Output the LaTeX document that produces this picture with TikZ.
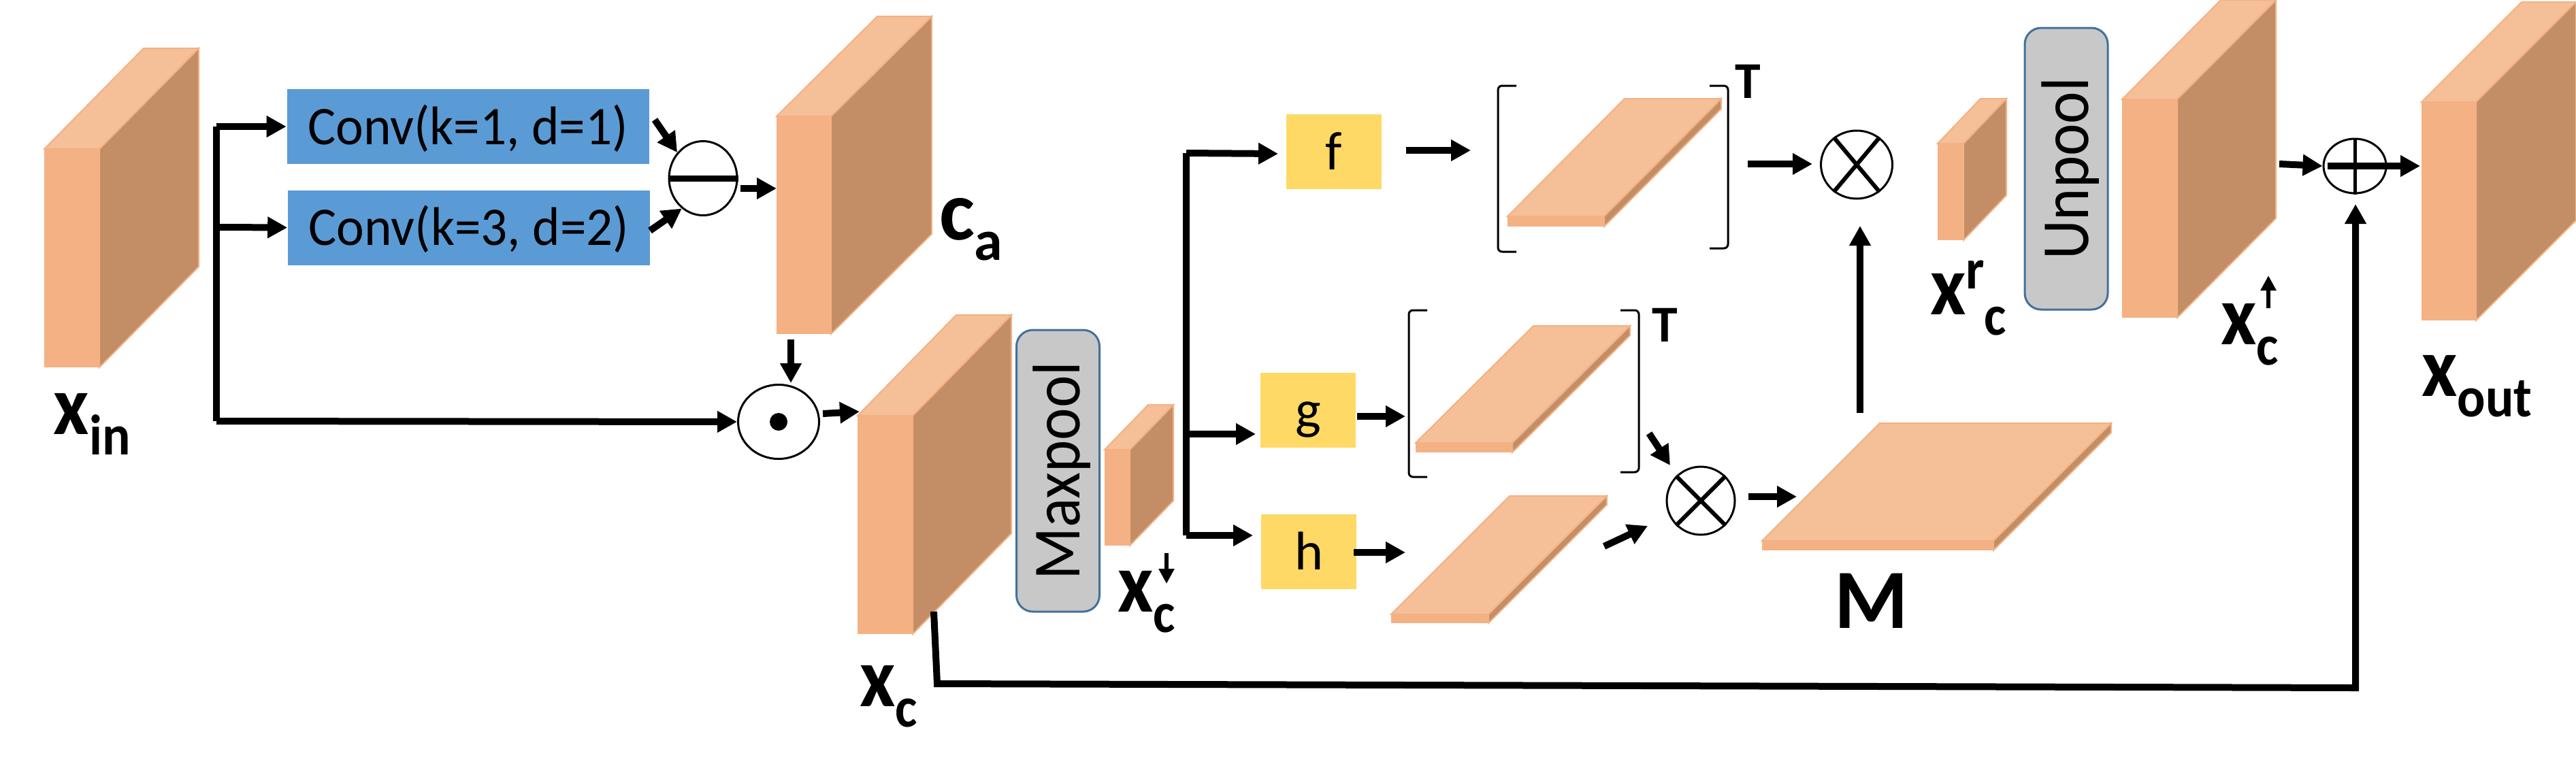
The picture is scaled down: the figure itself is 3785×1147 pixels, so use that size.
\documentclass[tikz,border=0pt]{standalone}
\usepackage{fontspec}
\setmainfont{Carlito}
\usetikzlibrary{arrows.meta,shapes.geometric}
\definecolor{cfront}{HTML}{F4B183}
\definecolor{ctop}{HTML}{F5BF98}
\definecolor{cside}{HTML}{C38E66}
\definecolor{cblue}{HTML}{5B9BD5}
\definecolor{cyel}{HTML}{FFD966}
\definecolor{cgray}{HTML}{C8C8C8}
\definecolor{cedge}{HTML}{41719C}
\newcommand{\blockthree}[7]{%
  \fill[cside,draw=cfront,line width=.5pt] (#2+#4,#3) -- (#2+#4+#6,#3-#7) -- (#2+#4+#6,#3-#7+#5) -- (#2+#4,#3+#5) -- cycle;
  \fill[ctop,draw=cfront,line width=.5pt] (#2,#3) -- (#2+#6,#3-#7) -- (#2+#4+#6,#3-#7) -- (#2+#4,#3) -- cycle;
  \node[frontface,minimum width=#4*.25pt,minimum height=#5*.25pt] (#1) at (#2+#4/2,#3+#5/2) {};
}
\newcommand{\brackleft}[4]{\draw[brack] (#1+#2,#3) -- (#1,#3) -- (#1,#4) -- (#1+#2,#4);}
\newcommand{\mysub}[1]{\raisebox{-7.5pt}{\fontsize{21}{21}\selectfont #1}}
\newcommand{\mysup}[1]{\raisebox{9.5pt}{\fontsize{21}{21}\selectfont #1}}
\newcommand{\bigx}[1]{\scalebox{.92}[1]{\bfseries\fontsize{31}{31}\selectfont #1}}
\tikzset{
  frontface/.style={fill=cfront,inner sep=0pt,outer sep=0pt},
  bigarr/.style={line width=2.5pt,-{Triangle[length=7.25pt,width=7.5pt]}},
  tinyarr/.style={line width=1.5pt,-{Triangle[length=5.5pt,width=5.5pt]}},
  busline/.style={line width=2.5pt,line cap=square},
  brack/.style={line width=.75pt,rounded corners=1.5pt},
  convbox/.style={fill=cblue,inner sep=0pt,minimum width=532*.25pt,minimum height=110*.25pt,text height=16pt,text depth=3pt,font=\fontsize{20}{24}\selectfont},
  fnbox/.style={fill=cyel,inner sep=0pt,minimum width=140*.25pt,minimum height=110*.25pt,text height=16pt,text depth=3pt,font=\fontsize{20}{24}\selectfont},
  poolbox/.style={fill=cgray,draw=cedge,line width=.75pt,rounded corners=6pt,rotate=90,inner sep=0pt,minimum width=414*.25pt,minimum height=122*.25pt,text height=20pt,text depth=4pt,font=\fontsize{22.5}{26}\selectfont},
  opcirc/.style={ellipse,draw=black,fill=white,line width=.75pt,inner sep=0pt},
  opline/.style={line width=1.5pt},
  lab/.style={anchor=base west,inner sep=0pt,outer sep=0pt},
}
\begin{document}
\begin{tikzpicture}[x=.25pt,y=-.25pt]
\useasboundingbox (0,0) rectangle (3785,1147);
% feature blocks
\blockthree{xin}{65}{219}{81}{321}{146}{148}
\blockthree{ca}{1141}{171}{80}{320}{148}{147}
\blockthree{xc}{1260}{611}{81}{321}{145}{148}
\blockthree{xdown}{1623}{661}{37}{141}{64}{66}
\blockthree{xrc}{2847}{211}{38}{142}{63}{66}
\blockthree{xup}{3118}{146}{81}{321}{145}{146}
\blockthree{xout}{3558}{150}{80}{321}{147}{147}
\blockthree{fs}{2215}{318}{142}{15}{172}{173}
\blockthree{gs}{2080}{651}{142}{14}{173}{172}
\blockthree{hs}{2044}{903}{143}{13}{174}{174}
\blockthree{ms}{2589}{795}{340}{14}{173}{173}
% boxes
\node[convbox] (conv1) at (687.5,186) {\scalebox{.965}[1]{Conv(k=1, d=1)}};
\node[convbox] (conv2) at (689,334.5) {\scalebox{.965}[1]{Conv(k=3, d=2)}};
\node[fnbox] (fbox) at (1960,223) {f};
\node[fnbox] (gbox) at (1922,603) {g};
\node[fnbox] (hbox) at (1923,811) {h};
\node[poolbox] (maxpool) at (1554.5,692) {\scalebox{1}[1.1]{Maxpool}};
\node[poolbox] (unpool) at (3036,248) {\scalebox{1}[1.1]{Unpool}};
% operators
\node[opcirc,minimum width=100*.25pt,minimum height=109*.25pt] (minus) at (1033,262) {};
\node[opcirc,minimum width=119*.25pt,minimum height=109*.25pt] (odot) at (1144,620) {};
\node[opcirc,minimum width=105*.25pt,minimum height=100*.25pt] (oxt) at (2728,242) {};
\node[opcirc,minimum width=100*.25pt,minimum height=100*.25pt] (oxb) at (2499,736) {};
\node[opcirc,minimum width=92*.25pt,minimum height=80*.25pt] (oplus) at (3460,244) {};
\draw[line width=2.25pt] (minus.west) -- (minus.east);
\node[circle,fill=black,inner sep=0pt,minimum size=26*.25pt] (dotmark) at (odot) {};
\draw[opline] (oxt.130) -- (oxt.-50);
\draw[opline] (oxt.50) -- (oxt.-130);
\draw[opline] (oxb.135) -- (oxb.-45);
\draw[opline] (oxb.45) -- (oxb.-135);
\draw[opline,line width=1.25pt] (oplus.north) -- (oplus.south);
% brackets
\brackleft{2201}{27}{126}{370}
\brackleft{2539}{-27}{126}{365}
\brackleft{2070}{27}{456}{701}
\brackleft{2408}{-27}{456}{694}
% coordinates
\coordinate (bustop) at (318,186);
\coordinate (busbot) at (318,619);
\coordinate (convtwoin) at (323,334);
\coordinate (cvout) at (962,176);
\coordinate (cwout) at (955,339);
\coordinate (minusout) at (1088,277);
\coordinate (caleft) at (1141,277);
\coordinate (cabot) at (1162,499);
\coordinate (odotin) at (1162,563);
\coordinate (dotout) at (1209,608);
\coordinate (xctip) at (1263,605);
\coordinate (bustwotop) at (1743,225);
\coordinate (bustwobot) at (1743,787);
\coordinate (bustwog) at (1743,638);
\coordinate (ftip) at (1878,226);
\coordinate (gtip) at (1845,638);
\coordinate (htip) at (1841,787);
\coordinate (fout) at (2066,221);
\coordinate (fin) at (2161,221);
\coordinate (gout) at (1994,612);
\coordinate (gin) at (2065,612);
\coordinate (hout) at (1989,812);
\coordinate (hin) at (2065,812);
\coordinate (brout) at (2568,241);
\coordinate (oxtin) at (2663,241);
\coordinate (brbout) at (2423,637);
\coordinate (oxbup) at (2454,684);
\coordinate (hsout) at (2357,803);
\coordinate (oxblow) at (2421,773);
\coordinate (oxbout) at (2569,730);
\coordinate (mtip) at (2640,730);
\coordinate (msup) at (2733,607);
\coordinate (oxttip) at (2733,332);
\coordinate (upout) at (3349,241);
\coordinate (plusout) at (3420,244);
\coordinate (plustip) at (3556,244);
\coordinate (skipa) at (1372,899);
\coordinate (skipb) at (1377,1005);
\coordinate (skipc) at (3461,1011);
\coordinate (plusup) at (3461,300);
\coordinate (dna) at (1714,813);
\coordinate (dnb) at (1714,858);
\coordinate (upa) at (3333,453);
\coordinate (upb) at (3333,405);
% connectors
\draw[busline] (bustop) -- (busbot);
\draw[bigarr] (bustop) -- (conv1.west);
\draw[bigarr] (convtwoin) -- (conv2.west);
\draw[bigarr] (busbot) -- (odot.west);
\draw[bigarr] (cvout) -- (minus.135);
\draw[bigarr] (cwout) -- (minus.-125);
\draw[bigarr] (minusout) -- (caleft);
\draw[bigarr] (cabot) -- (odotin);
\draw[bigarr] (dotout) -- (xctip);
\draw[busline] (bustwotop) -- (bustwobot);
\draw[bigarr] (bustwotop) -- (ftip);
\draw[bigarr] (bustwog) -- (gtip);
\draw[bigarr] (bustwobot) -- (htip);
\draw[bigarr] (fout) -- (fin);
\draw[bigarr] (gout) -- (gin);
\draw[bigarr] (hout) -- (hin);
\draw[bigarr] (brout) -- (oxtin);
\draw[bigarr] (brbout) -- (oxbup);
\draw[bigarr] (hsout) -- (oxblow);
\draw[bigarr] (oxbout) -- (mtip);
\draw[bigarr] (msup) -- (oxttip);
\draw[bigarr] (upout) -- (oplus.west);
\draw[bigarr] (plusout) -- (plustip);
\draw[bigarr,rounded corners=0pt] (skipa) -- (skipb) -- (skipc) -- (plusup);
\draw[tinyarr] (dna) -- (dnb);
\draw[tinyarr] (upa) -- (upb);
% labels
\node[lab] (lxin) at (79,638) {\bigx{x\mysub{in}}};
\node[lab] (lca) at (1380,352) {\bfseries\fontsize{31}{31}\selectfont c\mysub{a}};
\node[lab] (lxc) at (1263,1038) {\bigx{x\mysub{c}}};
\node[lab] (lxd) at (1642,899) {\bigx{x\mysub{c}}};
\node[lab] (lxr) at (2836,462) {\bigx{x\mysup{r}\mysub{c}}};
\node[lab] (lxu) at (3263,506) {\bigx{x\mysub{c}}};
\node[lab] (lxo) at (3558,582) {\bigx{x\mysub{out}}};
\node[lab] (lm) at (2695,923) {\bfseries\fontsize{31}{31}\selectfont M};
\node[lab] (ltf) at (2549,144) {\bfseries\fontsize{19}{19}\selectfont T};
\node[lab] (ltg) at (2427,502) {\bfseries\fontsize{19}{19}\selectfont T};
\end{tikzpicture}
\end{document}
